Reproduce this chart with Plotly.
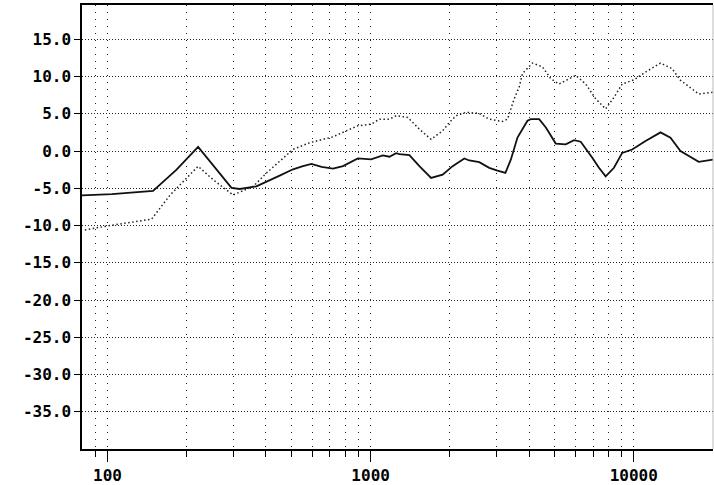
import plotly.graph_objects as go

# Frequency response, solid trace (Hz, dB)
solid_freq = [80, 104, 149, 183, 221, 296, 318, 368, 451, 507, 553, 596, 651, 719,
              785, 847, 894, 1004, 1112, 1179, 1250, 1287, 1404, 1532, 1697, 1878,
              2049, 2270, 2371, 2587, 2823, 3035, 3252, 3412, 3614, 3944, 4063,
              4369, 4633, 5052, 5514, 5929, 6285, 6955, 7374, 7818, 8407, 9036,
              9861, 11085, 12637, 13788, 15044, 17654, 20000]
solid_db = [-5.96, -5.8, -5.35, -2.5, 0.55, -4.95, -5.1, -4.75, -3.3, -2.45, -2.03,
            -1.72, -2.13, -2.36, -2.03, -1.45, -1.0, -1.13, -0.6, -0.77, -0.3,
            -0.42, -0.54, -2.03, -3.62, -3.17, -2.03, -1.0, -1.27, -1.49, -2.26,
            -2.63, -2.94, -1.13, 1.8, 4.06, 4.28, 4.28, 3.15, 1.0, 0.9, 1.45, 1.25,
            -0.9, -2.25, -3.4, -2.25, -0.25, 0.2, 1.35, 2.5, 1.8, 0.0, -1.45, -1.15]

# Dotted trace (Hz, dB)
dot_freq = [82, 100, 147, 173, 221, 252, 300, 358, 402, 451, 507, 587, 659, 719,
            808, 894, 1004, 1081, 1179, 1250, 1384, 1532, 1697, 1878, 1991, 2111,
            2304, 2587, 2823, 3170, 3312, 3511, 3668, 3776, 4120, 4497, 4836,
            5200, 6017, 6566, 7165, 7818, 8407, 9036, 10009, 11085, 12637, 13983,
            15044, 17654, 20000]
dot_db = [-10.6, -10.05, -9.15, -5.9, -2.05, -3.85, -5.9, -4.75, -2.95, -1.36, 0.22,
          1.12, 1.57, 1.9, 2.71, 3.39, 3.6, 4.28, 4.28, 4.74, 4.51, 2.93, 1.57,
          2.71, 3.83, 4.74, 5.19, 5.05, 4.28, 3.97, 4.28, 7.0, 8.6, 10.4, 11.8,
          11.3, 9.7, 9.0, 10.15, 9.0, 7.0, 5.65, 7.2, 9.0, 9.55, 10.6, 11.8, 11.05,
          9.5, 7.65, 7.9]

y_ticks = [15, 10, 5, 0, -5, -10, -15, -20, -25, -30, -35]
y_labels = ["15.0", "10.0", "5.0", "0.0", "-5.0", "-10.0", "-15.0", "-20.0",
            "-25.0", "-30.0", "-35.0"]
x_major = [100, 1000, 10000]
x_major_labels = ["100", "1000", "10000"]
x_minor = [90, 200, 300, 400, 500, 600, 700, 800, 900,
           2000, 3000, 4000, 5000, 6000, 7000, 8000, 9000]

font = dict(family="DejaVu Sans Mono", size=16, color="black", weight="bold")

fig = go.Figure()
fig.add_trace(go.Scatter(x=dot_freq, y=dot_db, mode="lines",
                         line=dict(color="#222", width=1.5, dash="1.5px,2.5px"),
                         showlegend=False))
fig.add_trace(go.Scatter(x=solid_freq, y=solid_db, mode="lines",
                         line=dict(color="#111", width=1.8),
                         showlegend=False))

fig.update_layout(
    width=714, height=485,
    margin=dict(l=82, r=1, t=5, b=36),
    paper_bgcolor="white", plot_bgcolor="white",
    font=font,
    xaxis=dict(
        type="log", range=[1.9031, 4.30103],
        tickmode="array", tickvals=x_major, ticktext=x_major_labels,
        ticks="outside", ticklen=11, tickwidth=1.2, tickcolor="black",
        showgrid=True, gridcolor="#222", gridwidth=1, griddash="1px,6px",
        showline=True, linecolor="black", linewidth=1.5, mirror=True,
        zeroline=False, tickfont=font,
        minor=dict(tickmode="array", tickvals=x_minor, ticks="outside",
                   ticklen=6, tickwidth=1.2, tickcolor="black",
                   showgrid=True, gridcolor="#222", gridwidth=1,
                   griddash="1px,6px"),
    ),
    yaxis=dict(
        range=[-40, 19.6],
        tickmode="array", tickvals=y_ticks, ticktext=y_labels,
        ticks="outside", ticklen=6, tickwidth=1.2, tickcolor="black",
        showgrid=True, gridcolor="#222", gridwidth=1, griddash="1px,2px",
        showline=True, linecolor="black", linewidth=1.5,
        zeroline=False, tickfont=font,
    ),
    shapes=[dict(type="line", xref="paper", yref="paper", x0=1, x1=1, y0=0, y1=1,
                 line=dict(color="#bbb", width=1))],
)

fig.write_html("out.html", config={"displayModeBar": False},
               post_script="document.body.style.margin='0';document.body.style.overflow='hidden';")
